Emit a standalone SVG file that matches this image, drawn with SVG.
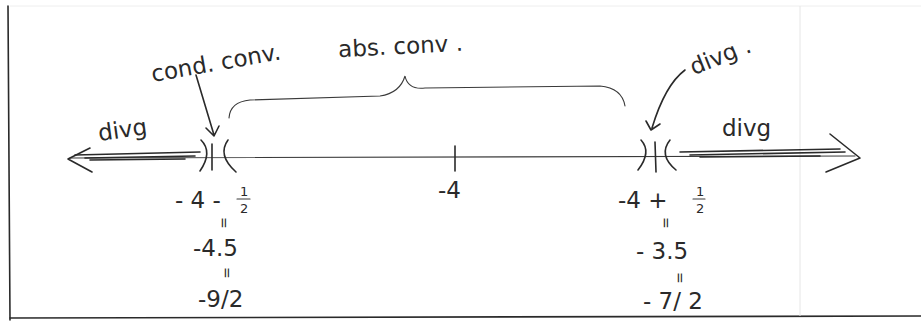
<svg xmlns="http://www.w3.org/2000/svg" width="921" height="321" viewBox="0 0 921 321">
<style>
.ink{fill:none;stroke:#2a2a2a;stroke-width:1.6;stroke-linecap:round;stroke-linejoin:round}
.thin{fill:none;stroke:#3a3a3a;stroke-width:1.1;stroke-linecap:round}
.t{font-family:"DejaVu Sans","Liberation Sans",sans-serif;fill:#2a2a2a}
.s{font-size:23px}
.f{font-size:13px}
.e{font-size:14px}
</style>
<rect width="921" height="321" fill="#ffffff"/>
<g id="frame">
<line x1="8" y1="6" x2="10" y2="320" class="ink"/>
<line x1="10" y1="318" x2="921" y2="316" class="ink"/>
<line x1="10" y1="6" x2="921" y2="6" stroke="#eeeeee" stroke-width="1"/>
<line x1="800" y1="6" x2="800" y2="316" stroke="#e6e6e6" stroke-width="1"/>
</g>
<g id="number-line">
<line x1="70" y1="158" x2="855" y2="156" class="thin"/>
<path d="M90 148 L68 159 L92 172" class="ink"/>
<path d="M830 134 L860 158 L826 172" class="ink"/>
<path d="M75 155 L200 152 M85 158 L195 156 M90 160 L185 159" class="ink" stroke-width="1.3"/>
<path d="M680 152 L840 149 M690 155 L845 152 M700 157 L820 156" class="ink" stroke-width="1.3"/>
<line x1="455" y1="146" x2="455" y2="171" class="ink"/>
<path d="M201 140 Q213 152 200 171 M212 144 L212 170 M228 140 Q217 155 236 172" class="ink"/>
<path d="M641 140 Q652 152 638 170 M655 142 L656 172 M670 140 Q658 155 676 170" class="ink"/>
</g>
<g id="labels-left">
<text x="98" y="138" class="t s" transform="rotate(-8 120 130)">divg</text>
<text x="150" y="70" class="t s" transform="rotate(-10 220 60)">cond. conv.</text>
<path d="M196 75 L214 135 M206 128 L214 136 L219 126" class="ink"/>
<text x="175" y="208" class="t s">- 4 -</text>
<text x="240" y="196" class="t f">1</text>
<line x1="237" y1="199" x2="250" y2="199" class="thin"/>
<text x="240" y="213" class="t f">2</text>
<text x="219" y="227" class="t e" transform="rotate(90 224 222)">=</text>
<text x="193" y="256" class="t s">-4.5</text>
<text x="222" y="277" class="t e" transform="rotate(90 227 272)">=</text>
<text x="198" y="307" class="t s">-9/2</text>
</g>
<g id="labels-mid">
<text x="338" y="54" class="t s" transform="rotate(-3 400 45)">abs. conv .</text>
<path d="M229 118 Q230 102 250 100 L380 96 Q400 93 405 76 Q408 90 425 88 L600 86 Q622 88 625 106" class="thin"/>
<text x="438" y="198" class="t s">-4</text>
</g>
<g id="labels-right">
<text x="688" y="64" class="t s" transform="rotate(-22 720 55)">divg .</text>
<path d="M685 70 Q665 85 652 128 M646 121 L651 130 L660 124" class="ink"/>
<text x="722" y="136" class="t s">divg</text>
<text x="618" y="208" class="t s">-4 +</text>
<text x="696" y="196" class="t f">1</text>
<line x1="693" y1="199" x2="705" y2="199" class="thin"/>
<text x="696" y="213" class="t f">2</text>
<text x="661" y="227" class="t e" transform="rotate(90 666 222)">=</text>
<text x="636" y="259" class="t s">- 3.5</text>
<text x="675" y="282" class="t e" transform="rotate(90 680 277)">=</text>
<text x="643" y="309" class="t s">- 7/ 2</text>
</g>
</svg>
